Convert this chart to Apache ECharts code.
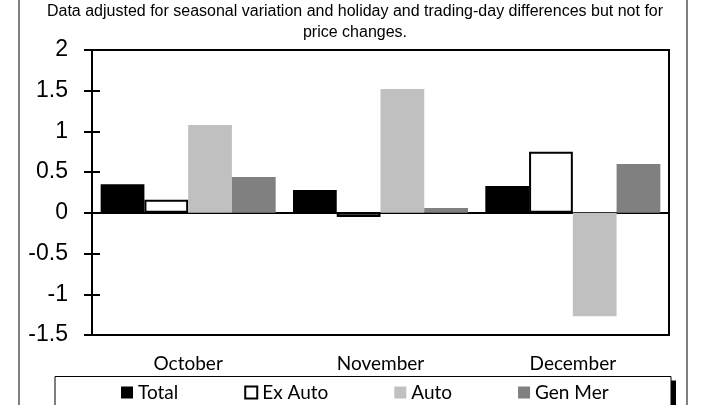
<!DOCTYPE html>
<html>
<head>
<meta charset="utf-8">
<script src="https://cdn.jsdelivr.net/npm/echarts@6/dist/echarts.min.js"></script>
<style>
html,body{margin:0;padding:0;background:#fff;}
#chart{width:710px;height:405px;}
</style>
</head>
<body>
<div id="chart"></div>
<script>
const categories = ['October', 'November', 'December'];
const seriesNames = ['Total', 'Ex Auto', 'Auto', 'Gen Mer'];
const totalValues = [0.35, 0.28, 0.33];
const exAutoValues = [0.16, -0.05, 0.75];
const autoValues = [1.08, 1.52, -1.27];
const genMerValues = [0.44, 0.06, 0.60];
const yTicks = { min: -1.5, max: 2, interval: 0.5 };
const titleText = 'Data adjusted for seasonal variation and holiday and trading-day differences but not for\nprice changes.';

const chart = echarts.init(document.getElementById('chart'), null, { renderer: 'canvas' });
const catFont = 'Lato, "Open Sans", sans-serif';

function bar(name, data, style) {
  return {
    name: name, type: 'bar', data: data,
    xAxisIndex: 0, yAxisIndex: 0,
    barGap: '0%', barCategoryGap: '9%',
    itemStyle: style,
    emphasis: { disabled: true },
    animation: false
  };
}

chart.setOption({
  animation: false,
  title: {
    text: titleText,
    left: 'center', top: 1, padding: 0,
    textStyle: { fontFamily: '"Liberation Sans", Arial, sans-serif', fontSize: 16, fontWeight: 'normal', color: '#000', lineHeight: 21 }
  },
  graphic: [
    { type: 'line', shape: { x1: 19, y1: 0, x2: 19, y2: 405 }, style: { stroke: '#808080', lineWidth: 2 }, z: 0 },
    { type: 'line', shape: { x1: 687, y1: 0, x2: 687, y2: 405 }, style: { stroke: '#808080', lineWidth: 2 }, z: 0 },
    { type: 'rect', shape: { x: 60, y: 380.5, width: 616, height: 40 }, style: { fill: '#000' }, z: 0 },
    { type: 'rect', shape: { x: 55, y: 376.5, width: 616, height: 40 },
      style: { fill: '#fff', stroke: '#000', lineWidth: 1 }, z: 1 }
  ],
  legend: {
    data: [
      { name: 'Total', icon: 'rect' },
      { name: 'Ex Auto', icon: 'rect', itemStyle: { color: '#fff', borderColor: '#000', borderWidth: 2 } },
      { name: 'Auto', icon: 'rect' },
      { name: 'Gen Mer', icon: 'rect' }
    ],
    left: 121, top: 383,
    itemWidth: 12, itemHeight: 12, itemGap: 66,
    padding: 0,
    textStyle: { fontFamily: catFont, fontSize: 19, color: '#000' },
    selectedMode: false,
    z: 5
  },
  grid: {
    left: 92, right: 41, top: 50, bottom: 70,
    show: true, borderColor: '#000', borderWidth: 2, backgroundColor: 'transparent'
  },
  xAxis: [
    {
      type: 'category', data: categories, position: 'bottom',
      axisLine: { show: false, onZero: false },
      axisTick: { show: false },
      axisLabel: { fontFamily: catFont, fontSize: 19, color: '#000', margin: 19 },
      splitLine: { show: false }
    },
    {
      type: 'category', data: categories, position: 'bottom',
      axisLine: { show: true, onZero: true, lineStyle: { color: '#000', width: 2 } },
      axisTick: { show: false },
      axisLabel: { show: false },
      splitLine: { show: false }
    }
  ],
  yAxis: [
    {
      type: 'value', min: yTicks.min, max: yTicks.max, interval: yTicks.interval,
      axisLine: { show: true, lineStyle: { color: '#000', width: 2 } },
      axisTick: { show: true, length: 8, lineStyle: { color: '#000', width: 2 } },
      axisLabel: { fontFamily: '"Liberation Sans", Arial, sans-serif', fontSize: 23, color: '#000', margin: 24 },
      splitLine: { show: false }
    },
    {
      type: 'value', min: yTicks.min, max: yTicks.max, interval: yTicks.interval, position: 'left',
      axisLine: { show: false },
      axisTick: { show: true, inside: true, length: 8, lineStyle: { color: '#000', width: 2 } },
      axisLabel: { show: false },
      splitLine: { show: false }
    }
  ],
  series: [
    bar('Total', totalValues, { color: '#000' }),
    bar('Ex Auto', exAutoValues, { color: '#fff', borderColor: '#000', borderWidth: 2 }),
    bar('Auto', autoValues, { color: '#c0c0c0' }),
    bar('Gen Mer', genMerValues, { color: '#808080' })
  ]
});
</script>
</body>
</html>
